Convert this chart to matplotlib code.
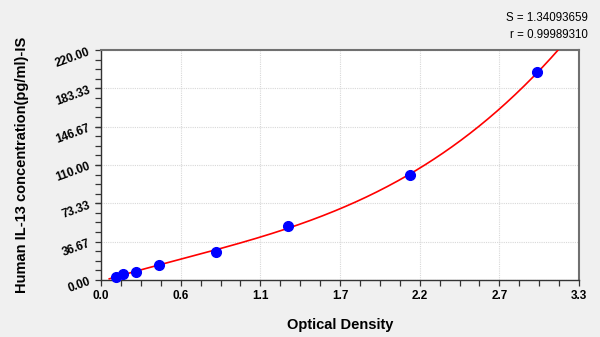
import numpy as np
import matplotlib
matplotlib.use("Agg")
import matplotlib.pyplot as plt
from matplotlib.ticker import FixedLocator, AutoMinorLocator

plt.rcParams['font.family'] = ['Liberation Sans', 'DejaVu Sans']

# Data
od = [0.104, 0.154, 0.242, 0.400, 0.794, 1.293, 2.134, 3.013]
conc = [3.2, 5.7, 7.9, 14.4, 27.1, 51.9, 100.5, 198.7]
x_ticks = [0.0, 0.55, 1.1, 1.65, 2.2, 2.75, 3.3]
x_tick_labels = ["0.0", "0.6", "1.1", "1.7", "2.2", "2.7", "3.3"]
y_ticks = [0.0, 36.67, 73.33, 110.0, 146.67, 183.33, 220.0]
y_tick_labels = ["0.00", "36.67", "73.33", "110.00", "146.67", "183.33", "220.00"]
curve_range = [0.057, 3.16]
s_text = "S = 1.34093659"
r_text = "r = 0.99989310"

fig = plt.figure(figsize=(6.0, 3.37), dpi=100, facecolor="#f0f0f0")
ax = fig.add_axes([101/600, 1-280/337, (579-101)/600, (280-50)/337])
ax.set_facecolor("white")

coef = np.polyfit(od, conc, 3)
xs = np.linspace(curve_range[0], curve_range[1], 300)
ax.plot(xs, np.polyval(coef, xs), color="#ff0000", lw=1.2, zorder=3)
ax.plot(od, conc, "o", color="#0000ff", ms=7, zorder=4, clip_on=False)

ax.set_xlim(0, 3.3)
ax.set_ylim(0, 220)
ax.xaxis.set_major_locator(FixedLocator(x_ticks))
ax.yaxis.set_major_locator(FixedLocator(y_ticks))
ax.xaxis.set_minor_locator(AutoMinorLocator(4))
ax.yaxis.set_minor_locator(AutoMinorLocator(4))
ax.set_xticklabels(x_tick_labels, fontsize=8.5, fontweight="bold")
ax.set_yticklabels(y_tick_labels, fontsize=8.5, fontweight="bold", rotation=20,
                   ha="right", rotation_mode="anchor")
ax.tick_params(axis="both", which="both", direction="out", length=4.5, width=0.9, color="#333333")
ax.tick_params(axis="x", which="major", pad=3)
ax.tick_params(axis="y", which="major", pad=4)
ax.grid(True, which="major", color="#d8d8d8", linestyle=(0, (1, 1)), lw=0.8)

for side in ["left", "bottom"]:
    ax.spines[side].set_color("#333333")
    ax.spines[side].set_linewidth(1.0)
for side in ["top", "right"]:
    ax.spines[side].set_color("#707070")
    ax.spines[side].set_linewidth(1.5)

ax.set_xlabel("Optical Density", fontsize=10.5, fontweight="bold", labelpad=11)
ax.set_ylabel("Human IL-13 concentration(pg/ml)-IS", fontsize=10.5, fontweight="bold", labelpad=18)

fig.text(588/600, 1-18/337, s_text, ha="right", va="center", fontsize=8.3)
fig.text(588/600, 1-35/337, r_text, ha="right", va="center", fontsize=8.3)

fig.savefig("out.png", dpi=100, facecolor=fig.get_facecolor())
